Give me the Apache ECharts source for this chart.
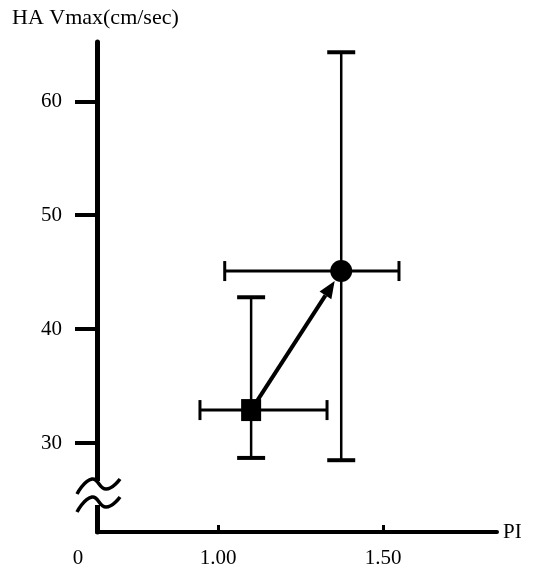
<!DOCTYPE html>
<html>
<head>
<meta charset="utf-8">
<script src="https://cdn.jsdelivr.net/npm/echarts@6/dist/echarts.min.js"></script>
<style>
  html, body { margin: 0; padding: 0; background: #fff; }
  #chart { width: 550px; height: 571px; }
</style>
</head>
<body>
<div id="chart"></div>
<script>
/* -------------------------------------------------------------------------- */
/*                                    Data                                    */
/* -------------------------------------------------------------------------- */
// each group: [PI mean, Vmax mean, PI low, PI high, Vmax low, Vmax high]
const groupNames = ['before', 'after'];
const beforeValues = [1.10, 32.9, 0.945, 1.33, 28.7, 42.8];
const afterValues = [1.373, 45.1, 1.02, 1.548, 28.5, 64.3];

const xTickValues = [1.0, 1.5];
const xTickLabels = ['1.00', '1.50'];
const yTickValues = [30, 40, 50, 60];
const xMin = 0.633;
const xMax = 1.845;
const yMin = 22.2;
const yMax = 65.2;

const FONT = "'Liberation Serif', 'DejaVu Serif', serif";

/* -------------------------------------------------------------------------- */
/*                                  Renderers                                 */
/* -------------------------------------------------------------------------- */
const errorItem = marker => (params, api) => {
  const x = api.value(0);
  const y = api.value(1);
  const c = api.coord([x, y]);
  const xl = api.coord([api.value(2), y]);
  const xh = api.coord([api.value(3), y]);
  const yl = api.coord([x, api.value(4)]);
  const yh = api.coord([x, api.value(5)]);
  const vCap = 14;
  const hCap = 10;
  const stroke = { stroke: '#000', lineWidth: 2.5 };
  const thick = { stroke: '#000', lineWidth: 3 };
  const children = [
    { type: 'line', shape: { x1: c[0], y1: yl[1], x2: c[0], y2: yh[1] }, style: stroke },
    { type: 'line', shape: { x1: xl[0], y1: c[1], x2: xh[0], y2: c[1] }, style: thick },
    { type: 'line', shape: { x1: c[0] - vCap, y1: yl[1], x2: c[0] + vCap, y2: yl[1] }, style: { stroke: '#000', lineWidth: 4 } },
    { type: 'line', shape: { x1: c[0] - vCap, y1: yh[1], x2: c[0] + vCap, y2: yh[1] }, style: { stroke: '#000', lineWidth: 4 } },
    { type: 'line', shape: { x1: xl[0], y1: c[1] - hCap, x2: xl[0], y2: c[1] + hCap }, style: thick },
    { type: 'line', shape: { x1: xh[0], y1: c[1] - hCap, x2: xh[0], y2: c[1] + hCap }, style: thick }
  ];
  if (marker === 'square') {
    children.push({ type: 'rect', shape: { x: c[0] - 10, y: c[1] - 11, width: 20, height: 22 }, style: { fill: '#000' } });
  } else {
    children.push({ type: 'circle', shape: { cx: c[0], cy: c[1], r: 11 }, style: { fill: '#000' } });
  }
  return { type: 'group', children };
};

const arrowItem = (params, api) => {
  const a = api.coord([api.value(0), api.value(1)]);
  const b = api.coord([api.value(2), api.value(3)]);
  const dx = b[0] - a[0];
  const dy = b[1] - a[1];
  const len = Math.sqrt(dx * dx + dy * dy);
  const ux = dx / len;
  const uy = dy / len;
  // stop at the edge of the circle marker
  const tip = [b[0] - ux * 12, b[1] - uy * 12];
  const headLen = 17;
  const headW = 7;
  const base = [tip[0] - ux * headLen, tip[1] - uy * headLen];
  return {
    type: 'group',
    children: [
      { type: 'line', shape: { x1: a[0], y1: a[1], x2: base[0], y2: base[1] }, style: { stroke: '#000', lineWidth: 4 } },
      {
        type: 'polygon',
        shape: {
          points: [
            tip,
            [base[0] - uy * headW, base[1] + ux * headW],
            [base[0] + uy * headW, base[1] - ux * headW]
          ]
        },
        style: { fill: '#000' }
      }
    ]
  };
};

/* -------------------------------------------------------------------------- */
/*                                    Chart                                   */
/* -------------------------------------------------------------------------- */
const chart = echarts.init(document.getElementById('chart'));

// axis break symbol (two waves across the y axis)
const wave = y0 => ({
  type: 'polyline',
  shape: { points: [[77, y0 + 8], [92, y0 - 7], [106, y0 + 3], [120, y0 - 7]], smooth: 0.5 },
  style: { fill: null, stroke: '#000', lineWidth: 3.5 },
  z: 10
});

chart.setOption({
  animation: false,
  backgroundColor: '#fff',
  title: {
    text: 'HA Vmax(cm/sec)',
    left: 7,
    top: 2,
    textStyle: { fontFamily: FONT, fontSize: 22, fontWeight: 'normal', color: '#000' }
  },
  grid: { left: 97, right: 53, top: 42, bottom: 39 },
  xAxis: {
    type: 'value',
    min: xMin,
    max: xMax,
    name: 'PI',
    nameLocation: 'end',
    nameGap: 6,
    nameTextStyle: { fontFamily: FONT, fontSize: 21, color: '#000' },
    axisLine: { lineStyle: { color: '#000', width: 4 } },
    axisTick: { show: true, inside: true, length: 7, lineStyle: { color: '#000', width: 3 }, customValues: xTickValues },
    axisLabel: {
      customValues: [xMin].concat(xTickValues),
      margin: 16,
      fontFamily: FONT,
      fontSize: 21,
      color: '#000',
      formatter: v => {
        if (Math.abs(v - xMin) < 1e-6) return '{zero|0}';
        const i = xTickValues.findIndex(t => Math.abs(t - v) < 1e-6);
        return i >= 0 ? xTickLabels[i] : '';
      },
      rich: { zero: { fontFamily: FONT, fontSize: 21, color: '#000', padding: [0, 38, 0, 0] } }
    },
    splitLine: { show: false }
  },
  yAxis: {
    type: 'value',
    min: yMin,
    max: yMax,
    axisLine: { lineStyle: { color: '#000', width: 5 } },
    axisTick: { show: true, length: 22, lineStyle: { color: '#000', width: 4 }, customValues: yTickValues },
    axisLabel: { customValues: yTickValues, margin: 35, fontFamily: FONT, fontSize: 21, color: '#000' },
    splitLine: { show: false }
  },
  graphic: [
    { type: 'rect', shape: { x: 90, y: 481, width: 16, height: 24 }, style: { fill: '#fff' }, z: 9 },
    wave(486),
    wave(504)
  ],
  series: [
    {
      name: groupNames[0],
      type: 'custom',
      renderItem: errorItem('square'),
      data: [beforeValues],
      z: 3
    },
    {
      name: groupNames[1],
      type: 'custom',
      renderItem: errorItem('circle'),
      data: [afterValues],
      z: 3
    },
    {
      name: 'change',
      type: 'custom',
      renderItem: arrowItem,
      data: [[beforeValues[0], beforeValues[1], afterValues[0], afterValues[1]]],
      z: 4
    }
  ]
});
</script>
</body>
</html>
